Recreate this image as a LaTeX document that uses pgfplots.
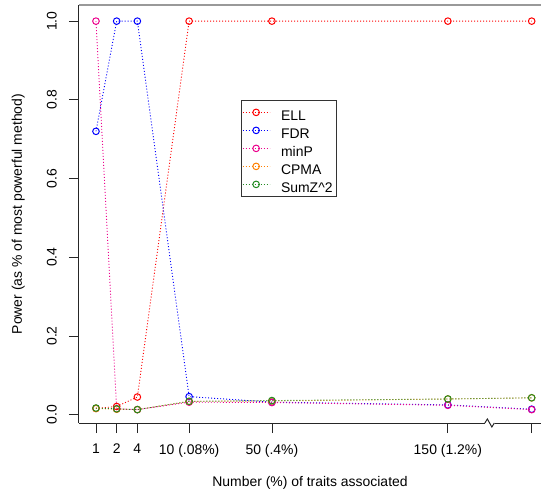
\documentclass[border=0pt]{standalone}
\usepackage{fontspec}
\setmainfont{Liberation Sans}
\usepackage{pgfplots}
\pgfplotsset{compat=1.18}

\definecolor{rgreen}{RGB}{34,139,34}

\pgfplotsset{
  rline/.style={dash pattern=on 1bp off 2bp, line width=0.9bp, mark=o,
    mark size=3.3bp, mark options={solid, line width=1bp}},
}

\begin{document}
\fontsize{14}{17}\selectfont
\begin{tikzpicture}
\begin{axis}[
  scale only axis, width=462bp, height=418bp,
  xmin=0.18, xmax=22.5, ymin=-0.021, ymax=1.041,
  axis x line*=bottom, axis y line*=left,
  axis line style={black!85, line width=1bp},
  tick align=outside, major tick length=10bp,
  tick style={black!85, line width=0.8bp},
  xtick={1,2,3,5.5,9.5,18,22.05},
  xticklabels={1,2,4,10 (.08\%),50 (.4\%),150 (1.2\%),{}},
  ytick={0,0.2,0.4,0.6,0.8,1.0},
  /pgf/number format/fixed, /pgf/number format/fixed zerofill, /pgf/number format/precision=1,
  /pgf/number format/assume math mode=true,
  yticklabel style={rotate=90, anchor=south, inner sep=0pt},
  yticklabel shift=12bp,
  xticklabel style={anchor=north, inner sep=0pt},
  xticklabel shift=11bp,
  every axis x label/.style={at={([yshift=-53bp]axis description cs:0.5,0)}, anchor=north, inner sep=0pt},
  every axis y label/.style={at={([xshift=-54bp]axis description cs:0,0.5)}, rotate=90, anchor=south, inner sep=0pt},
  xlabel={Number (\%) of traits associated},
  ylabel={Power (as \% of most powerful method)},
  clip=false,
  legend style={at={(0.351,0.773)}, anchor=north west, draw=black!80, line width=1bp,
    inner xsep=0.5bp, inner ysep=3bp, column sep=8bp,
    nodes={inner xsep=3bp, inner ysep=0pt, text height=17.5bp, text depth=0.5bp}},
  legend cell align=left,
  legend image code/.code={\draw[mark repeat=2, mark phase=2] plot coordinates {(0bp,0bp) (13.5bp,0bp) (27bp,0bp)};},
]
\addplot[rline, red] coordinates {(1,0.016)(2,0.021)(3,0.045)(5.5,1)(9.5,1)(18,1)(22.05,1)};
\addplot[rline, blue] coordinates {(1,0.72)(2,1)(3,1)(5.5,0.046)(9.5,0.032)(18,0.025)(22.05,0.014)};
\addplot[rline, magenta] coordinates {(1,1)(2,0.015)(3,0.013)(5.5,0.032)(9.5,0.031)(18,0.024)(22.05,0.013)};
\addplot[rline, orange] coordinates {(1,0.016)(2,0.014)(3,0.013)(5.5,0.034)(9.5,0.035)(18,0.040)(22.05,0.043)};
\addplot[rline, rgreen] coordinates {(1,0.017)(2,0.015)(3,0.013)(5.5,0.034)(9.5,0.036)(18,0.040)(22.05,0.043)};
\legend{ELL, FDR, minP, CPMA, SumZ\textasciicircum 2}
% top border (grey) and axis break
\draw[black!40, line width=1.5bp] (rel axis cs:0,1) -- (rel axis cs:1,1);
\draw[white, line width=2bp] ([xshift=-5bp]axis cs:20.03,-0.021) -- ([xshift=5bp]axis cs:20.03,-0.021);
\draw[black!85, line width=1bp] ([xshift=-5bp]axis cs:20.03,-0.021) -- ([xshift=-2.5bp, yshift=4bp]axis cs:20.03,-0.021)
  -- ([xshift=2bp, yshift=-4bp]axis cs:20.03,-0.021) -- ([xshift=4.5bp]axis cs:20.03,-0.021);
\coordinate (sw) at (rel axis cs:0,0);
\coordinate (ne) at (rel axis cs:1,1);
\end{axis}
\pgfresetboundingbox
\useasboundingbox ([shift={(-79bp,-73bp)}]sw) rectangle ([shift={(0bp,5bp)}]ne);
\end{tikzpicture}
\end{document}
